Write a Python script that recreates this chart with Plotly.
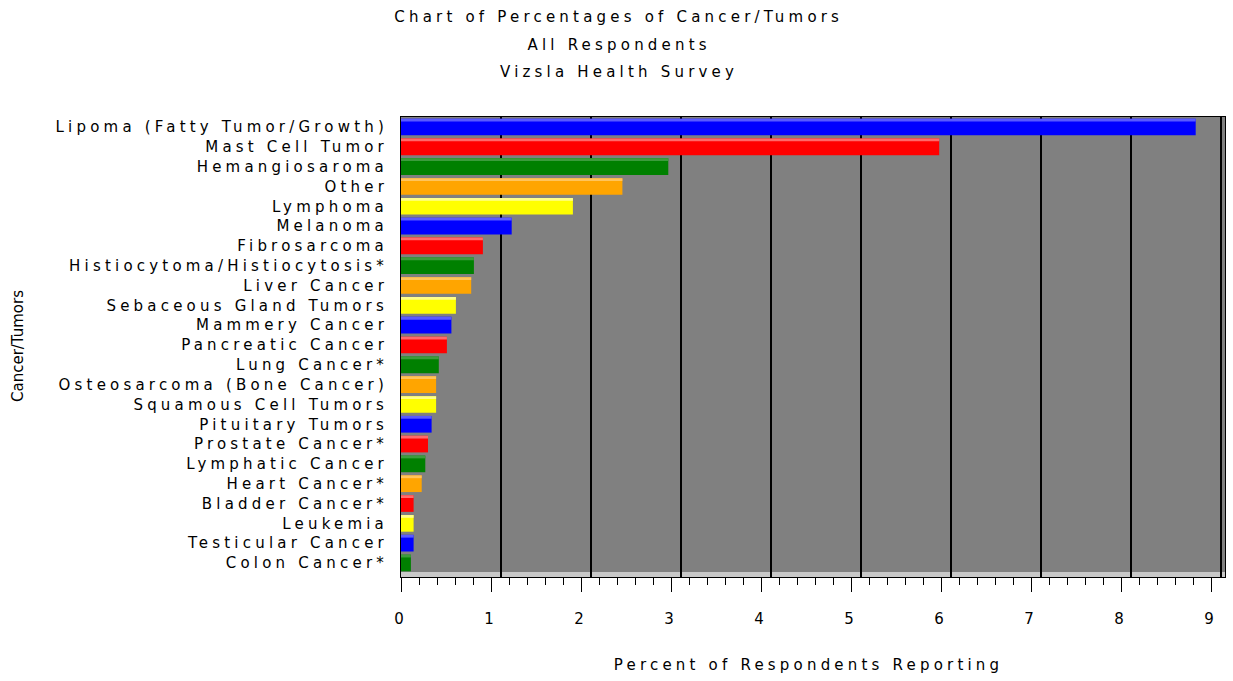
import plotly.graph_objects as go

categories = [
    "Lipoma (Fatty Tumor/Growth)", "Mast Cell Tumor", "Hemangiosaroma", "Other",
    "Lymphoma", "Melanoma", "Fibrosarcoma", "Histiocytoma/Histiocytosis*",
    "Liver Cancer", "Sebaceous Gland Tumors", "Mammery Cancer", "Pancreatic Cancer",
    "Lung Cancer*", "Osteosarcoma (Bone Cancer)", "Squamous Cell Tumors",
    "Pituitary Tumors", "Prostate Cancer*", "Lymphatic Cancer", "Heart Cancer*",
    "Bladder Cancer*", "Leukemia", "Testicular Cancer", "Colon Cancer*",
]
values = [8.83, 5.98, 2.97, 2.46, 1.91, 1.23, 0.91, 0.81, 0.78, 0.61, 0.56, 0.51,
          0.42, 0.39, 0.39, 0.34, 0.30, 0.27, 0.23, 0.14, 0.14, 0.14, 0.11]
bar_colors = ["#0000ff", "#ff0000", "#008000", "#ffa500", "#ffff00",
              "#0000ff", "#ff0000", "#008000", "#ffa500", "#ffff00",
              "#0000ff", "#ff0000", "#008000", "#ffa500", "#ffff00",
              "#0000ff", "#ff0000", "#008000", "#ffa500",
              "#ff0000", "#ffff00", "#0000ff", "#008000"]
x_ticks = [0, 1, 2, 3, 4, 5, 6, 7, 8, 9]
title_lines = ["Chart of Percentages of Cancer/Tumors", "All Respondents", "Vizsla Health Survey"]
x_title = "Percent of Respondents Reporting"
y_title = "Cancer/Tumors"

HIGHLIGHT = {"#0000ff": "#5a5aff", "#ff0000": "#ff6a6a", "#008000": "#3c9c3c",
             "#ffa500": "#ffc45a", "#ffff00": "#ffff8c"}

W, H = 1233, 681
L, R, T, B = 401, 1225, 117, 577
PX_PER_UNIT = 90.0
FONT = dict(family="DejaVu Sans", size=15, color="#000000")

def px_x(px):
    return (px - L) / (R - L)

def px_y(py):
    return (B - py) / (B - T)

BAR_W = 0.84
fig = go.Figure()
# invisible helper trace so the back-wall grid axis (x2) is rendered
fig.add_trace(go.Scatter(
    x=x_ticks, y=[categories[0]] * len(x_ticks), xaxis="x2", yaxis="y",
    mode="markers", marker=dict(opacity=0, size=1), hoverinfo="skip", showlegend=False,
))
fig.add_trace(go.Bar(
    x=values, y=categories, orientation="h",
    marker=dict(color=bar_colors, line=dict(width=0)),
    width=BAR_W, offset=-BAR_W / 2, showlegend=False, hoverinfo="x+y",
))
# lighter top face for a 3D look
fig.add_trace(go.Bar(
    x=values, y=categories, orientation="h",
    marker=dict(color=[HIGHLIGHT[c] for c in bar_colors], line=dict(width=0)),
    width=0.14, offset=-BAR_W / 2, showlegend=False, hoverinfo="skip",
))

xmax = (R - L) / PX_PER_UNIT
shift = 10 / PX_PER_UNIT
n = len(categories)
first_c, last_c = 127.0, 563.0
step = (last_c - first_c) / (n - 1)

fig.update_layout(
    width=W, height=H,
    margin=dict(l=L, r=W - R, t=T, b=H - B, autoexpand=False),
    paper_bgcolor="white", plot_bgcolor="#808080",
    font=FONT, barmode="overlay",
    xaxis=dict(
        range=[0, xmax], tickmode="linear", tick0=0, dtick=1,
        ticks="outside", ticklen=14, tickwidth=1, tickcolor="black",
        minor=dict(tick0=0, dtick=0.2, ticks="outside", ticklen=7, tickcolor="black", tickwidth=1, showgrid=False),
        showgrid=False, zeroline=False, showline=True, mirror=True,
        linecolor="black", linewidth=1, ticklabelstandoff=14,
        tickfont=FONT, automargin=False,
    ),
    xaxis2=dict(
        overlaying="x", anchor="y", range=[-shift, xmax - shift],
        tickmode="array", tickvals=x_ticks[1:], showticklabels=False, ticks="",
        showgrid=True, gridcolor="black", gridwidth=1.5, zeroline=False, showline=False,
    ),
    yaxis=dict(
        type="category", categoryorder="array", categoryarray=categories,
        range=[n - 1 + (B - last_c) / step, -(first_c - T) / step],
        showgrid=False, zeroline=False, showline=True, mirror=True,
        linecolor="black", linewidth=1, ticks="", ticklabelstandoff=9,
        tickfont=FONT, automargin=False,
    ),
    shapes=[
        dict(type="rect", xref="paper", yref="paper", x0=0, x1=1, y0=0, y1=5 / (B - T),
             fillcolor="#c8c8c8", line=dict(width=0), layer="below"),
    ],
)

annotations = []
for txt, cy in zip(title_lines, [17, 45, 72]):
    annotations.append(dict(text=txt, xref="paper", yref="paper", x=px_x(619), y=px_y(cy),
                            xanchor="center", yanchor="middle", showarrow=False, font=FONT))
annotations.append(dict(text=x_title, xref="paper", yref="paper", x=px_x(808), y=px_y(665),
                        xanchor="center", yanchor="middle", showarrow=False, font=FONT))
annotations.append(dict(text=y_title, xref="paper", yref="paper", x=px_x(18), y=px_y(346),
                        xanchor="center", yanchor="middle", textangle=-90, showarrow=False, font=FONT))
fig.update_layout(annotations=annotations)

post = """
document.body.style.margin = '0';
var gd = document.getElementById('{plot_id}');
gd.querySelectorAll('text').forEach(function(t){
  if (t.textContent !== 'Cancer/Tumors') { t.style.letterSpacing = '4.2px'; }
});
"""
fig.write_html("out.html", post_script=post, config={"displayModeBar": False})
